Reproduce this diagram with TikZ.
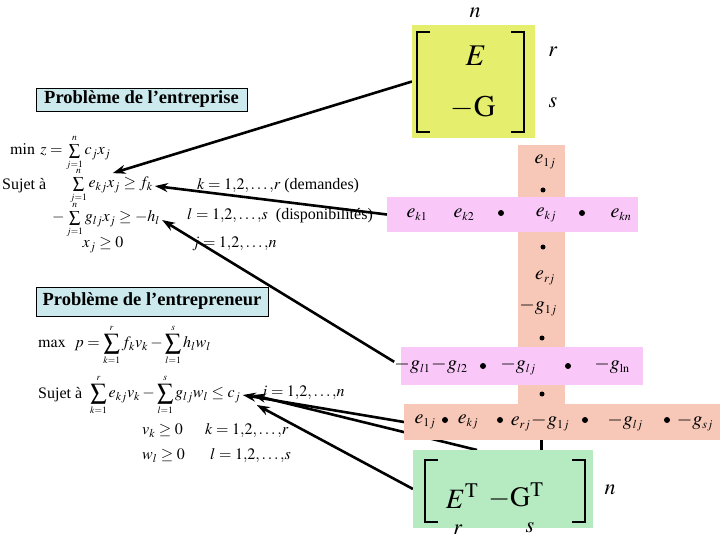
\documentclass[tikz,border=0pt]{standalone}
\usepackage{mathptmx}
\usepackage{fontspec}
\setmainfont{Liberation Serif}
\usepackage{tikz}
\usetikzlibrary{arrows.meta,backgrounds}

\definecolor{boxyellow}{RGB}{230,238,110}
\definecolor{bandpink}{RGB}{249,200,249}
\definecolor{bandsalmon}{RGB}{247,200,184}
\definecolor{boxgreen}{RGB}{182,234,192}
\definecolor{labelcyan}{RGB}{204,234,238}

\DeclareMathSizes{20}{20}{12}{9}
\newcommand{\psum}[2]{\mathop{\textstyle\sum}\limits_{\scriptscriptstyle #1}^{\scriptscriptstyle #2}}
\newcommand{\dsum}[2]{\mathop{\displaystyle\sum}\limits_{\scriptscriptstyle #1}^{\scriptscriptstyle #2}}

\begin{document}
\begin{tikzpicture}[x=1pt,y=-1pt]
    \tikzset{
    plate/.style={inner sep=0pt, outer sep=0pt},
    title/.style={draw, fill=labelcyan, line width=0.8pt, inner sep=0pt,
        font=\fontsize{18.5}{21}\selectfont\bfseries},
    formula/.style={inner sep=2pt, font=\fontsize{16}{19}\selectfont},
    entry/.style={inner sep=1pt, font=\fontsize{20}{24}\selectfont},
    big/.style={inner sep=1pt, font=\fontsize{30}{34}\selectfont},
    idx/.style={inner sep=1pt, font=\fontsize{22}{26}\selectfont},
    dot/.style={circle, fill, inner sep=0pt, minimum size=6pt},
    bracket/.style={line width=2pt},
    arr/.style={-{Stealth[length=13pt,width=9pt]}, line width=2.6pt}
    }
        \useasboundingbox (0,0) rectangle (720,540);

        % coloured plates
        \node (vband)[plate, fill=bandsalmon, minimum width=47pt, minimum height=259pt] at (541.5,274.5) {};
        \node (pink1)[plate, fill=bandpink, minimum width=251pt, minimum height=35pt] at (512.5,214.5) {};
        \node (pink2)[plate, fill=bandpink, minimum width=242pt, minimum height=38pt] at (522,366) {};
        \node (salmon)[plate, fill=bandsalmon, minimum width=316pt, minimum height=36pt] at (562,422) {};
        \node (yellow)[plate, fill=boxyellow, minimum width=123pt, minimum height=113pt] at (473.5,81.5) {};
        \node (green)[plate, fill=boxgreen, minimum width=180pt, minimum height=78pt] at (503,489) {};

        % matrix E / -G
        \draw[bracket] (430,32) -- (417,32) -- (417,132) -- (430,132);
        \draw[bracket] (511,32) -- (524,32) -- (524,132) -- (511,132);
        \node (E)[big] at (476,56) {$E$};
        \node (mG)[big] at (473,108) {$-\mathrm{G}$};
        \node (n1)[idx] at (475,13) {$n$};
        \node (r1)[idx] at (553,52) {$r$};
        \node (s1)[idx] at (553,103) {$s$};

        % matrix transposed
        \draw[bracket] (438,460) -- (425,460) -- (425,522) -- (438,522);
        \draw[bracket] (572,460) -- (585,460) -- (585,522) -- (572,522);
        \node (Et)[big, font=\fontsize{28}{32}\selectfont] at (462,496) {$E^{\mathrm{T}}$};
        \node (mGt)[big, font=\fontsize{28}{32}\selectfont] at (516,496) {$-\mathrm{G}^{\mathrm{T}}$};
        \node (n2)[idx] at (610,490) {$n$};
        \node (r2)[idx] at (458,530) {$r$};
        \node (s2)[idx] at (530,528) {$s$};

        % column j
        \node (e1j)[entry] at (545,162) {$e_{1j}$};
        \node (v1)[dot, minimum size=5pt] at (543,190) {};
        \node (v2)[dot, minimum size=5pt] at (543,247) {};
        \node (erj)[entry] at (545,278) {$e_{rj}$};
        \node (g1j)[entry] at (538,307) {$-g_{1j}$};
        \node (v3)[dot, minimum size=5pt] at (542,338) {};
        \node (v4)[dot, minimum size=5pt] at (542,394) {};

        % row k
        \node (ek1)[entry] at (417,215) {$e_{k1}$};
        \node (ek2)[entry] at (464,215) {$e_{k2}$};
        \node (h1)[dot] at (501,213) {};
        \node (ekj)[entry] at (546,215) {$e_{kj}$};
        \node (h2)[dot] at (582,213) {};
        \node (ekn)[entry] at (621,215) {$e_{kn}$};

        % row l
        \node (gl12)[entry] at (431,366) {$-g_{l1}\!-\!g_{l2}$};
        \node (h3)[dot] at (483,366) {};
        \node (glj)[entry] at (518,366) {$-g_{lj}$};
        \node (h4)[dot] at (568,366) {};
        \node (gln)[entry] at (612,366) {$-g_{\mathrm{ln}}$};

        % column j of the transposed
        \node (t1)[entry] at (425,422) {$e_{1j}$};
        \node (h5)[dot] at (445,420) {};
        \node (t2)[entry] at (468,422) {$e_{kj}$};
        \node (h6)[dot] at (500,420) {};
        \node (t3)[entry] at (540,422) {$e_{rj}\!-\!g_{1j}$};
        \node (h7)[dot] at (585,420) {};
        \node (t5)[entry] at (625,422) {$-g_{lj}$};
        \node (h8)[dot] at (667,420) {};
        \node (t6)[entry] at (695,422) {$-g_{sj}$};

        % entreprise
        \node (lab1)[title, minimum width=211pt, minimum height=23pt] at (141.5,99.5) {Problème de l’entreprise};
        \node (minz)[formula, anchor=west] at (8,153) {$\min\; z=\psum{j=1}{n}c_jx_j$};
        \node (suj1)[formula, anchor=west] at (0,186) {Sujet à};
        \node (c1)[formula, anchor=west] at (68,186) {$\psum{j=1}{n}e_{kj}x_j\ge f_k$};
        \node (c2)[formula, anchor=west] at (50,220) {$-\psum{j=1}{n}g_{lj}x_j\ge -h_l$};
        \node (c3)[formula] at (103,245) {$x_j\ge 0$};
        \node (k1)[formula, anchor=west] at (195,186) {$k=1{,}2{,}\ldots{,}r$ (demandes)};
        \node (l1)[formula, anchor=west] at (185,216) {$l=1{,}2{,}\ldots{,}s$\ \ (disponibilités)};
        \node (j1)[formula, anchor=west] at (190,244) {$j=1{,}2{,}\ldots{,}n$};

        % entrepreneur
        \node (lab2)[title, minimum width=232pt, minimum height=29pt] at (152,301.5) {Problème de l’entrepreneur};
        \node (maxp)[formula, anchor=west] at (36,345) {$\max\;\; p=\dsum{k=1}{r}f_kv_k-\dsum{l=1}{s}h_lw_l$};
        \node (suj2)[formula, anchor=west] at (36,395) {Sujet à};
        \node (cons)[formula, anchor=west] at (88,395) {$\dsum{k=1}{r}e_{kj}v_k-\dsum{l=1}{s}g_{lj}w_l\le c_j$};
        \node (j2)[formula, anchor=west] at (258,393) {$j=1{,}2{,}\ldots{,}n$};
        \node (vk)[formula, anchor=west] at (140,431) {$v_k\ge 0$};
        \node (k2)[formula, anchor=west] at (203,431) {$k=1{,}2{,}\ldots{,}r$};
        \node (wl)[formula, anchor=west] at (140,456) {$w_l\ge 0$};
        \node (l2)[formula, anchor=west] at (208,456) {$l=1{,}2{,}\ldots{,}s$};

        \begin{pgfonlayer}{background}
        \draw[arr] (yellow.west) -- (minz.south east);
        \draw[arr] (pink1.west) -- (c1.east);
        \draw[arr, shorten <=8pt] (pink2.west) -- (c2.east);
        \draw[arr] (salmon.west) -- (cons.east);
        \draw[arr] ([xshift=-26pt]green.north) -- ([xshift=10pt]cons.east);
        \draw[arr] (green.west) -- ([xshift=14pt,yshift=-10pt]cons.east);
        \draw[line width=2.6pt] (vband.south) -- (vband.south |- green.north);
        \end{pgfonlayer}
    \end{tikzpicture}
\end{document}
